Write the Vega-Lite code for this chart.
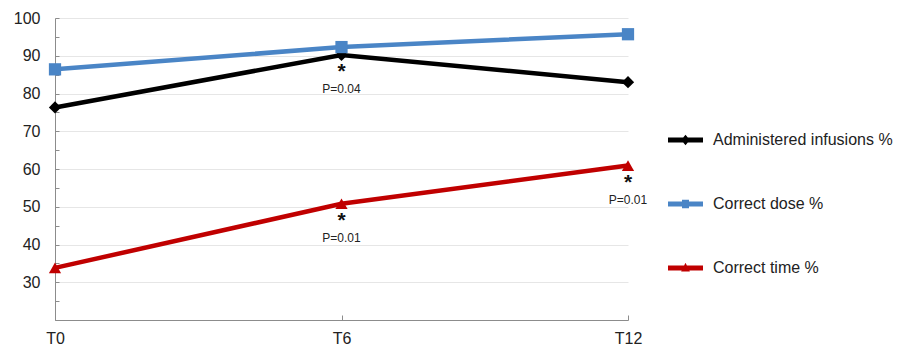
{
  "$schema": "https://vega.github.io/schema/vega-lite/v6.json",
  "autosize": "none",
  "padding": {"left": 55, "top": 18, "right": 286, "bottom": 29},
  "width": 573,
  "height": 302,
  "background": "white",
  "config": {
    "font": "Liberation Sans",
    "view": {"stroke": null}
  },
  "datasets": {
    "series": [
      {"time": "T0", "series": "Administered infusions %", "value": 76.3},
      {"time": "T6", "series": "Administered infusions %", "value": 90.2},
      {"time": "T12", "series": "Administered infusions %", "value": 83},
      {"time": "T0", "series": "Correct dose %", "value": 86.4},
      {"time": "T6", "series": "Correct dose %", "value": 92.3},
      {"time": "T12", "series": "Correct dose %", "value": 95.7},
      {"time": "T0", "series": "Correct time %", "value": 33.8},
      {"time": "T6", "series": "Correct time %", "value": 50.8},
      {"time": "T12", "series": "Correct time %", "value": 60.9}
    ],
    "notes": [
      {"time": "T6", "value": 90.2, "p": "P=0.04"},
      {"time": "T6", "value": 50.8, "p": "P=0.01"},
      {"time": "T12", "value": 60.9, "p": "P=0.01"}
    ]
  },
  "encoding": {
    "x": {
      "field": "time",
      "type": "ordinal",
      "sort": ["T0", "T6", "T12"],
      "scale": {"type": "point", "padding": 0},
      "axis": {
        "title": null,
        "labelAngle": 0,
        "labelFontSize": 16,
        "labelColor": "#222",
        "labelPadding": 15,
        "domainColor": "#8c8c8c",
        "tickColor": "#8c8c8c",
        "tickSize": -5,
        "grid": false
      }
    },
    "y": {
      "field": "value",
      "type": "quantitative",
      "scale": {"domain": [20, 100], "nice": false, "zero": false},
      "axis": {
        "title": null,
        "values": [20, 25, 30, 35, 40, 45, 50, 55, 60, 65, 70, 75, 80, 85, 90, 95, 100],
        "labelExpr": "datum.value % 10 == 0 && datum.value >= 30 ? datum.label : ''",
        "labelFontSize": 16,
        "labelColor": "#222",
        "labelPadding": 19,
        "domainColor": "#8c8c8c",
        "tickColor": "#8c8c8c",
        "tickSize": -4,
        "grid": true,
        "gridColor": "#e6e6e6",
        "gridOpacity": {"condition": {"test": "datum.value % 10 == 0 && datum.value >= 30", "value": 1}, "value": 0}
      }
    }
  },
  "layer": [
    {
      "data": {"name": "series"},
      "mark": {"type": "line", "strokeWidth": 4.5, "clip": false},
      "encoding": {
        "color": {
          "field": "series",
          "type": "nominal",
          "scale": {
            "domain": ["Administered infusions %", "Correct dose %", "Correct time %"],
            "range": ["#000000", "#4a85c6", "#c00000"]
          },
          "legend": {
            "title": null,
            "orient": "none",
            "legendX": 613,
            "legendY": 104.5,
            "padding": 0,
            "symbolSize": 1225,
            "symbolType": "circle",
            "rowPadding": 38,
            "labelOffset": 10,
            "labelFontSize": 16,
            "labelColor": "#222",
            "labelLimit": 300,
            "encode": {
              "symbols": {
                "update": {
                  "shape": {"signal": "datum.value === 'Administered infusions %' ? 'M-1,-0.14H1V0.14H-1Z M0,-0.3L0.25,0L0,0.3L-0.25,0Z' : datum.value === 'Correct dose %' ? 'M-1,-0.14H1V0.14H-1Z M-0.2,-0.24H0.2V0.24H-0.2Z' : 'M-1,-0.14H1V0.14H-1Z M0,-0.3L0.25,0.2L-0.25,0.2Z'"},
                  "fill": {"scale": "color", "field": "value"},
                  "fillOpacity": {"value": 1},
                  "strokeWidth": {"value": 0}
                }
              }
            }
          }
        }
      }
    },
    {
      "data": {"name": "series"},
      "transform": [{"filter": "datum.series === 'Administered infusions %'"}],
      "mark": {"type": "point", "shape": "diamond", "filled": true, "opacity": 1, "size": 150, "color": "#000000", "clip": false},
      "encoding": {}
    },
    {
      "data": {"name": "series"},
      "transform": [{"filter": "datum.series === 'Correct dose %'"}],
      "mark": {"type": "point", "shape": "square", "filled": true, "opacity": 1, "size": 150, "color": "#4a85c6", "clip": false},
      "encoding": {}
    },
    {
      "data": {"name": "series"},
      "transform": [{"filter": "datum.series === 'Correct time %'"}],
      "mark": {"type": "point", "shape": "triangle-up", "filled": true, "opacity": 1, "size": 150, "color": "#c00000", "clip": false},
      "encoding": {}
    },
    {
      "data": {"name": "notes"},
      "mark": {"type": "text", "text": "*", "fontSize": 21, "fontWeight": "bold", "baseline": "middle", "dy": 17, "color": "#111"},
      "encoding": {}
    },
    {
      "data": {"name": "notes"},
      "mark": {"type": "text", "fontSize": 12, "baseline": "middle", "dy": 34, "color": "#222"},
      "encoding": {"text": {"field": "p"}}
    }
  ]
}
